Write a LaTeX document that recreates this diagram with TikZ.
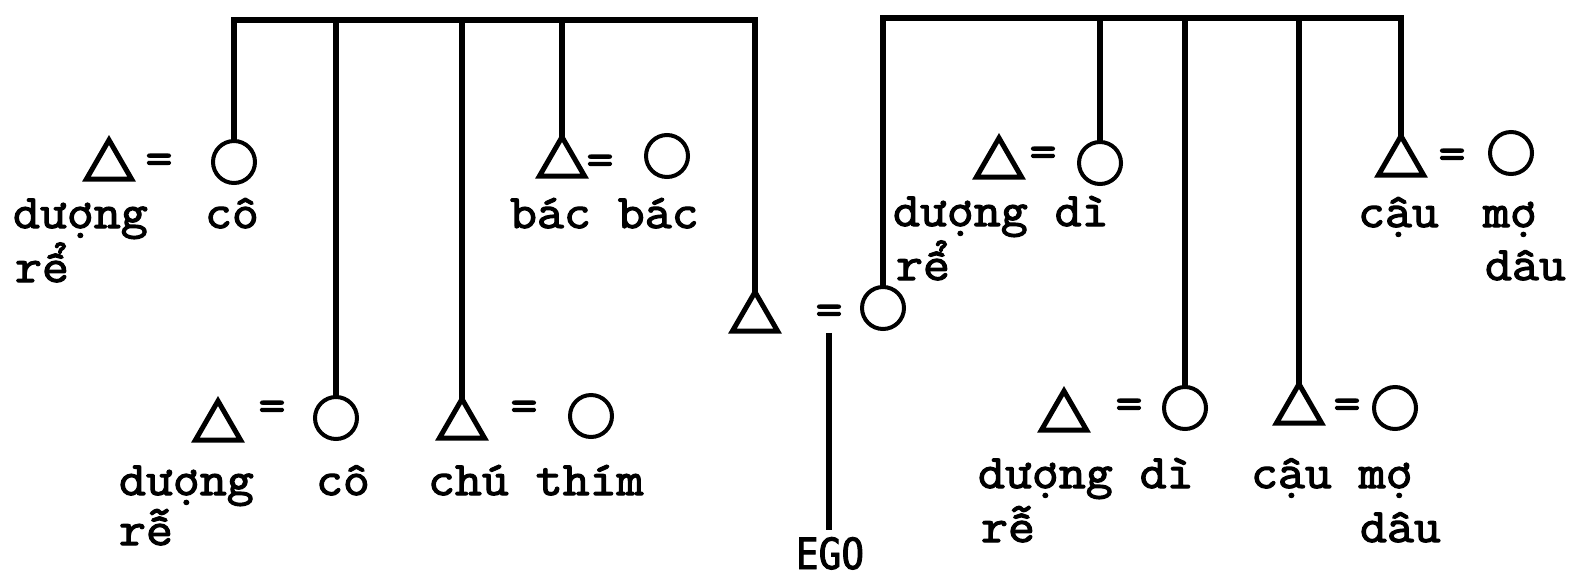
\documentclass[tikz,border=0pt]{standalone}
\usepackage{fontspec}
\usetikzlibrary{shapes.geometric}
\newfontfamily\twfont{Latin Modern Mono}[FakeBold=2.5,FakeStretch=1.09]
\newfontfamily\egofont{DejaVu Sans Mono}[FakeStretch=0.88,FakeBold=2]
\begin{document}
\begin{tikzpicture}[x=1pt,y=-1pt,
  tri/.style={regular polygon, regular polygon sides=3, draw, line width=5pt, minimum size=52pt, inner sep=0pt, outer sep=0pt},
  cir/.style={circle, draw, line width=4pt, minimum size=42pt, inner sep=0pt, outer sep=0pt},
  eqs/.style={font=\twfont\fontsize{48}{54}\selectfont, inner sep=0pt, outer sep=0pt},
  lbl/.style={font=\twfont\fontsize{48}{54}\selectfont, anchor=base west, inner sep=0pt, outer sep=0pt},
  link/.style={line width=5.2pt, line join=miter}]
\fill[white] (0,0) rectangle (1581,582);
\coordinate (LT) at (0,20);
\coordinate (RT) at (0,18);
% top row, left
\node[tri] (t1) at (109,166) {};
\node[eqs] (e1) at (159,164) {=};
\node[cir] (c1) at (234,162) {};
\node[tri] (t2) at (562,163) {};
\node[eqs] (e2) at (600,165) {=};
\node[cir] (c2) at (667,156) {};
% Ego's parents
\node[tri] (t0) at (755,318) {};
\node[eqs] (e0) at (829,315) {=};
\node[cir] (c0) at (883,308) {};
% top row, right
\node[tri] (t3) at (999,164) {};
\node[eqs] (e3) at (1043,157) {=};
\node[cir] (c3) at (1100,163) {};
\node[tri] (t4) at (1401,162) {};
\node[eqs] (e4) at (1452,159) {=};
\node[cir] (c4) at (1511,153) {};
% bottom row, left
\node[tri] (t5) at (218,427) {};
\node[eqs] (e5) at (272,411) {=};
\node[cir] (c5) at (336,418) {};
\node[tri] (t6) at (462,425) {};
\node[eqs] (e6) at (524,411) {=};
\node[cir] (c6) at (591,416) {};
% bottom row, right
\node[tri] (t7) at (1064,417) {};
\node[eqs] (e7) at (1129,409) {=};
\node[cir] (c7) at (1185,408) {};
\node[tri] (t8) at (1299,410) {};
\node[eqs] (e8) at (1347,409) {=};
\node[cir] (c8) at (1395,408) {};
% EGO
\node[font=\egofont\fontsize{43}{50}\selectfont, anchor=base, inner sep=0pt, outer sep=0pt] (ego) at (830,569) {EGO};
% labels top
\node[lbl] (l1a) at (13,228) {dượng};
\node[lbl] (l1b) at (15,282) {rể};
\node[lbl] (l2) at (205,228) {cô};
\node[lbl] (l3) at (510,228) {bác bác};
\node[lbl] (l4a) at (893,226) {dượng dì};
\node[lbl] (l4b) at (896,280) {rể};
\node[lbl] (l5) at (1358,227) {cậu};
\node[lbl] (l6a) at (1483,227) {mợ};
\node[lbl] (l6b) at (1485,280) {dâu};
% labels bottom
\node[lbl] (m1a) at (119,495) {dượng};
\node[lbl] (m1b) at (119,545) {rễ};
\node[lbl] (m2) at (316,495) {cô};
\node[lbl] (m3) at (428,495) {chú thím};
\node[lbl] (m4a) at (978,488) {dượng dì};
\node[lbl] (m4b) at (981,542) {rễ};
\node[lbl] (m5a) at (1251,488) {cậu mợ};
\node[lbl] (m5b) at (1360,542) {dâu};
% left sibling bracket (father's side)
\draw[link] (c1.north) -- (c1.north |- LT) -- (t0.corner 1 |- LT) -- (t0.corner 1);
\draw[link] (c5.north) -- (c5.north |- LT);
\draw[link] (t6.corner 1) -- (t6.corner 1 |- LT);
\draw[link] (t2.corner 1) -- (t2.corner 1 |- LT);
% right sibling bracket (mother's side)
\draw[link] (c0.north) -- (c0.north |- RT) -- (t4.corner 1 |- RT) -- (t4.corner 1);
\draw[link] (c3.north) -- (c3.north |- RT);
\draw[link] (c7.north) -- (c7.north |- RT);
\draw[link] (t8.corner 1) -- (t8.corner 1 |- RT);
% descent to EGO
\draw[link] ([yshift=-8pt]e0.south) -- ([yshift=7pt]e0.south |- ego.north);
\end{tikzpicture}
\end{document}
